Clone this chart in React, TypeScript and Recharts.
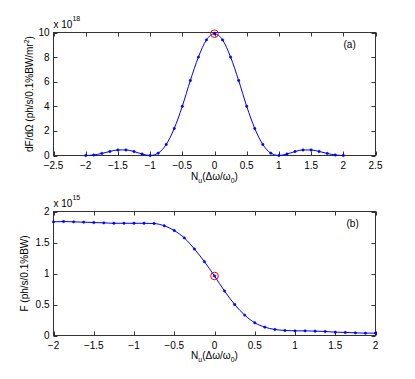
import { LineChart, Line, XAxis, YAxis, ReferenceDot, ReferenceArea } from 'recharts'

// detuning N_u(Δω/ω0), same sampling for both panels
const detuning = [
  -2, -1.875, -1.75, -1.625, -1.5, -1.375, -1.25, -1.125, -1, -0.875, -0.75, -0.625, -0.5, -0.375, -0.25, -0.125,
  0, 0.125, 0.25, 0.375, 0.5, 0.625, 0.75, 0.875, 1, 1.125, 1.25, 1.375, 1.5, 1.625, 1.75, 1.875, 2,
]

// (a) dF/dΩ, units of 1e18
const brightness = [
  0, 0.04, 0.17, 0.33, 0.45, 0.45, 0.32, 0.12, 0, 0.19, 0.9, 2.2, 4.0, 6.1, 8.0, 9.4,
  9.9, 9.4, 8.0, 6.1, 4.0, 2.2, 0.9, 0.19, 0, 0.12, 0.32, 0.45, 0.45, 0.33, 0.17, 0.04, 0,
]

// (b) F, units of 1e15
const flux = [
  1.833, 1.838, 1.833, 1.828, 1.822, 1.817, 1.81, 1.81, 1.81, 1.81, 1.806, 1.77, 1.693, 1.574, 1.396, 1.191,
  0.96, 0.717, 0.5, 0.329, 0.205, 0.135, 0.097, 0.081, 0.075, 0.075, 0.07, 0.065, 0.054, 0.049, 0.043, 0.038, 0.038,
]

const topXTicks = [-2.5, -2, -1.5, -1, -0.5, 0, 0.5, 1, 1.5, 2, 2.5]
const topYTicks = [0, 2, 4, 6, 8, 10]
const botXTicks = [-2, -1.5, -1, -0.5, 0, 0.5, 1, 1.5, 2]
const botYTicks = [0, 0.5, 1, 1.5, 2]

const markIdx = 16 // highlighted point at zero detuning

const topData = detuning.map((x, i) => ({ x, v: brightness[i] }))
const botData = detuning.map((x, i) => ({ x, v: flux[i] }))

const fmt = (v: number) => String(v).replace('-', '\u2212')
const tickStyle = { fill: '#000', fontSize: 10 }
const BLUE = '#0000ff'
const FRAME = '#333'

const xTitle = (offset: number) => (props: any) => {
  const { x, y, width } = props.viewBox
  return (
    <text x={x + width / 2} y={y + offset} textAnchor="middle" fontSize={10} fill="#000">
      N<tspan dy={3} fontSize={7}>u</tspan>
      <tspan dy={-3}>(Δω/ω</tspan>
      <tspan dy={3} fontSize={7}>0</tspan>
      <tspan dy={-3}>)</tspan>
    </text>
  )
}

const yTitle = (text: any, dx: number) => (props: any) => {
  const { x, y, height } = props.viewBox
  const cx = x + dx
  const cy = y + height / 2
  return (
    <text x={cx} y={cy} textAnchor="middle" fontSize={10} fill="#000" transform={`rotate(-90 ${cx} ${cy})`}>
      {text}
    </text>
  )
}

// MATLAB-style box with inward ticks on all four sides, plus the exponent and panel tag
const frame = (p: any) => (props: any) => {
  const { x, y, width, height } = props.viewBox
  const [x0, x1] = p.xDomain
  const [y0, y1] = p.yDomain
  const px = (t: number) => x + ((t - x0) / (x1 - x0)) * width
  const py = (t: number) => y + height - ((t - y0) / (y1 - y0)) * height
  const L = 4
  return (
    <g>
      <rect x={x} y={y} width={width} height={height} fill="none" stroke={FRAME} strokeWidth={1} />
      {p.xTicks.map((t: number) => (
        <g key={'x' + t} stroke={FRAME} strokeWidth={1}>
          <line x1={Math.round(px(t)) + 0.5} x2={Math.round(px(t)) + 0.5} y1={y + height} y2={y + height - L} />
          <line x1={Math.round(px(t)) + 0.5} x2={Math.round(px(t)) + 0.5} y1={y} y2={y + L} />
        </g>
      ))}
      {p.yTicks.map((t: number) => (
        <g key={'y' + t} stroke={FRAME} strokeWidth={1}>
          <line x1={x} x2={x + L} y1={Math.round(py(t)) + 0.5} y2={Math.round(py(t)) + 0.5} />
          <line x1={x + width} x2={x + width - L} y1={Math.round(py(t)) + 0.5} y2={Math.round(py(t)) + 0.5} />
        </g>
      ))}
      <text x={x} y={y - 5} fontSize={10} fill="#000">
        x 10<tspan dy={-7} fontSize={7}>{p.exp}</tspan>
      </text>
      <text x={x + width - p.tagDx} y={y + 15} fontSize={10} fill="#000">{p.tag}</text>
    </g>
  )
}

function Panel(p: any) {
  const { data, xDomain, xTicks, yDomain, yTicks, margin, xTitleOffset, yLabel, height } = p
  return (
    <LineChart width={415} height={height} data={data} margin={margin}>
      <XAxis
        type="number" dataKey="x" domain={xDomain} ticks={xTicks} tickFormatter={fmt}
        tick={tickStyle} tickLine={false} axisLine={false} tickSize={0} tickMargin={6} height={20} interval={0}
        label={{ content: xTitle(xTitleOffset) }}
      />
      <YAxis
        type="number" domain={yDomain} ticks={yTicks} tickFormatter={fmt} tick={tickStyle}
        tickLine={false} axisLine={false} tickSize={0} tickMargin={4} width={40} interval={0}
        label={{ content: yLabel }}
      />
      <ReferenceArea
        x1={xDomain[0]} x2={xDomain[1]} y1={yDomain[0]} y2={yDomain[1]} fill="none" stroke="none"
        label={{ content: frame(p) }}
      />
      <Line
        type="monotone" dataKey="v" stroke={BLUE} strokeWidth={1}
        dot={{ r: 1.2, fill: BLUE, stroke: BLUE, strokeWidth: 0.5 }}
        isAnimationActive={false}
      />
      <ReferenceDot x={data[markIdx].x} y={data[markIdx].v} r={3.8} fill="none" stroke="#ff0000" strokeWidth={1} />
    </LineChart>
  )
}

export default function App() {
  return (
    <div style={{ position: 'absolute', left: 0, top: 0, width: 415, height: 379, background: '#fff', fontFamily: '"Liberation Sans", Arial, sans-serif' }}>
      <Panel
        data={topData} height={190} xDomain={[-2.5, 2.5]} xTicks={topXTicks} yDomain={[0, 10]} yTicks={topYTicks}
        margin={{ top: 32.5, right: 39.5, bottom: 14.5, left: 13.5 }} xTitleOffset={24}
        yLabel={yTitle(<>dF/dΩ (ph/s/0.1%BW/mr<tspan dy={-4} fontSize={7}>2</tspan><tspan dy={4}>)</tspan></>, 19)}
        exp="18" tag="(a)" tagDx={32}
      />
      <div style={{ position: 'absolute', left: 0, top: 190 }}>
        <Panel
          data={botData} height={189} xDomain={[-2, 2]} xTicks={botXTicks} yDomain={[0, 2]} yTicks={botYTicks}
          margin={{ top: 21.5, right: 39.5, bottom: 23.5, left: 13.5 }} xTitleOffset={23}
          yLabel={yTitle('F (ph/s/0.1%BW)', 14)}
          exp="15" tag="(b)" tagDx={29}
        />
      </div>
    </div>
  )
}
